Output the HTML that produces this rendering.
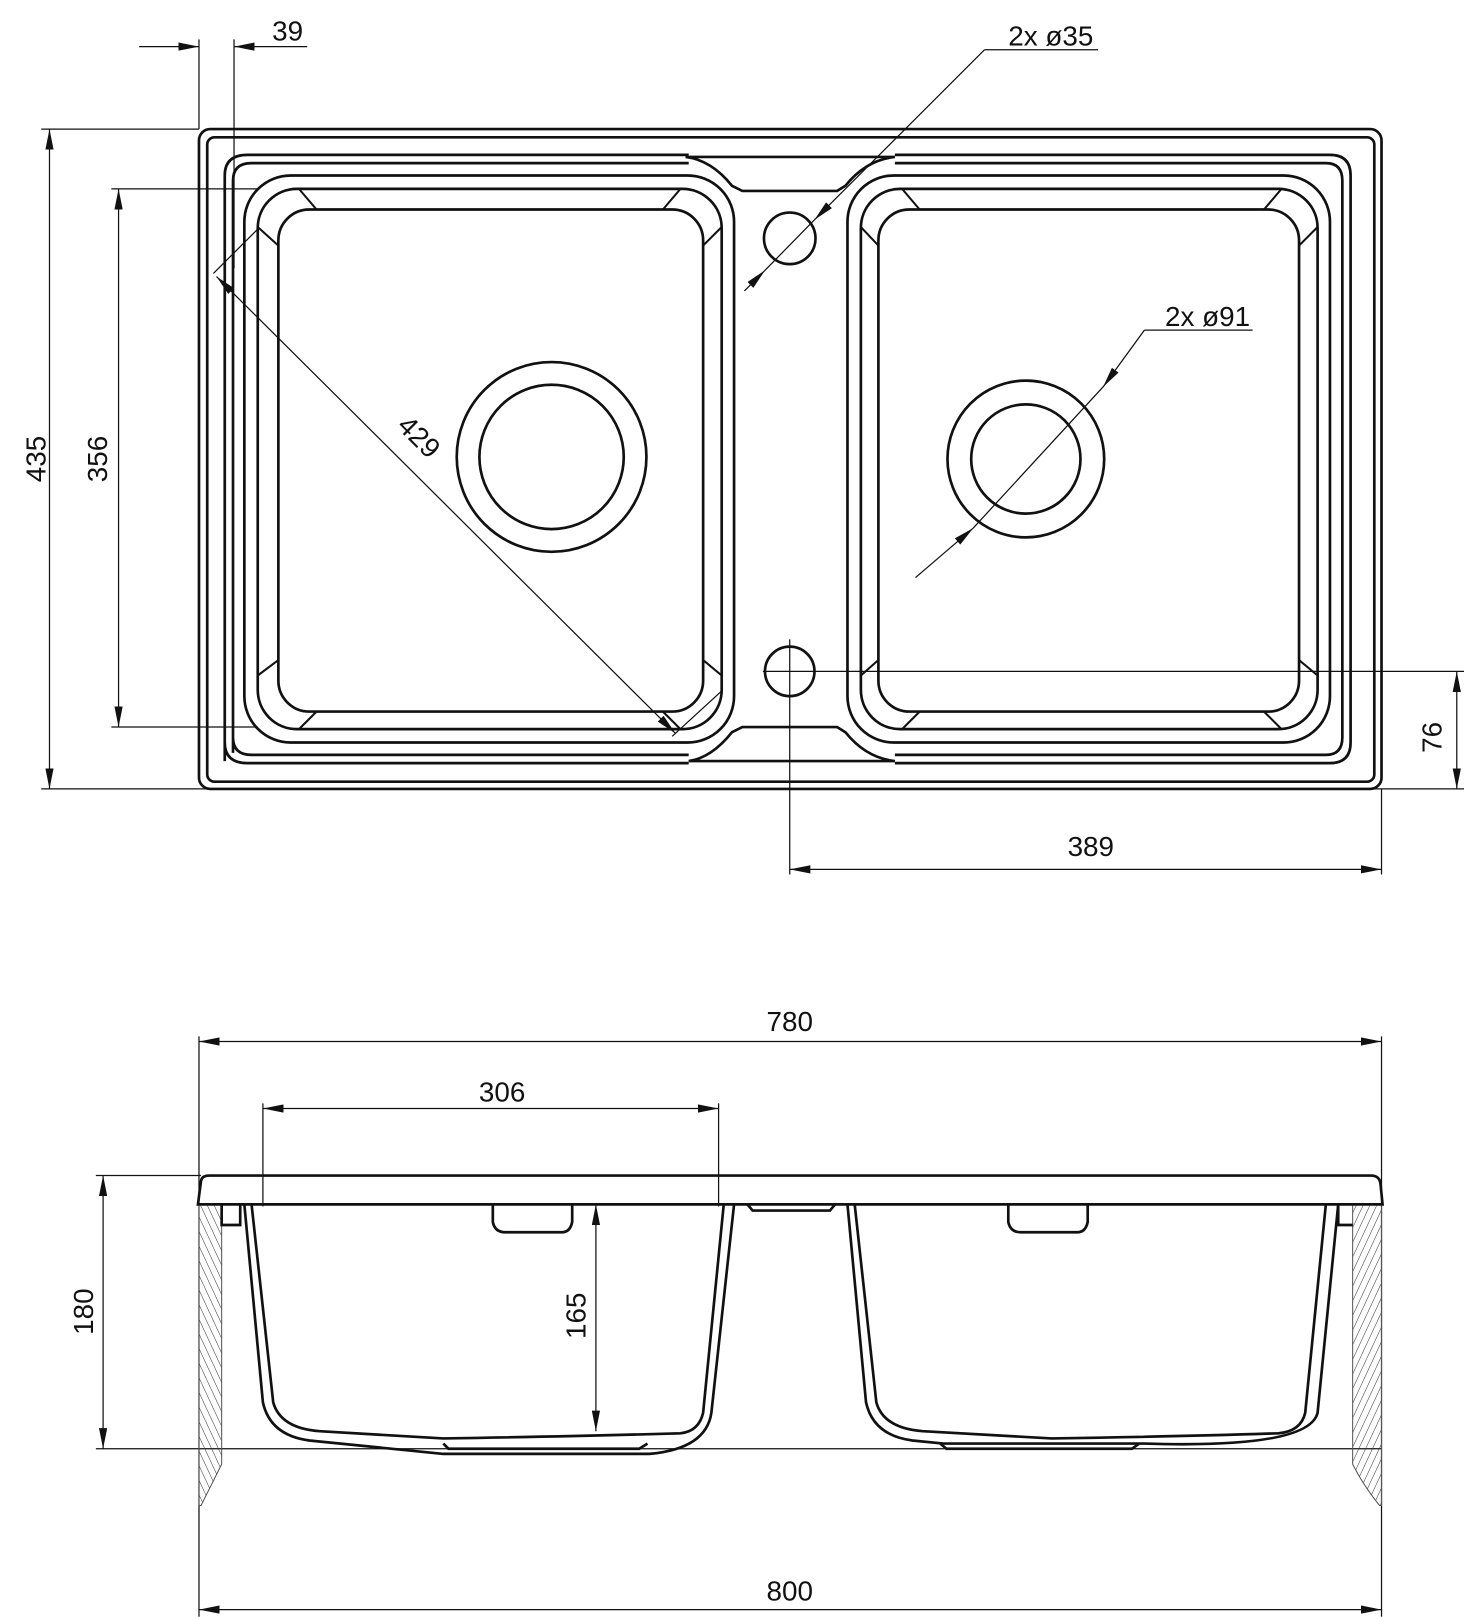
<!DOCTYPE html>
<html><head><meta charset="utf-8"><style>html,body{margin:0;padding:0;background:#fff}svg{display:block}text{font-family:"Liberation Sans",sans-serif;font-size:27px;fill:#111}</style></head><body>
<svg width="1464" height="1617" viewBox="0 0 1420 1568" xmlns="http://www.w3.org/2000/svg">
<defs>
<marker id="a" viewBox="0 0 20 8" refX="20" refY="4" markerWidth="20" markerHeight="8" markerUnits="userSpaceOnUse" orient="auto-start-reverse"><path d="M0,0L20,4L0,8z" fill="#111"/></marker>
<pattern id="h" width="6" height="6" patternUnits="userSpaceOnUse" patternTransform="rotate(-25)"><line x1="0" y1="0" x2="0" y2="6" stroke="#333" stroke-width="1"/></pattern>
<pattern id="h2" width="6" height="6" patternUnits="userSpaceOnUse" patternTransform="rotate(25)"><line x1="0" y1="0" x2="0" y2="6" stroke="#333" stroke-width="1"/></pattern>
</defs>
<g fill="none" stroke="#111" stroke-width="2.6">
<rect x="193" y="125" width="1147" height="640" rx="11"/>
<rect x="201" y="133" width="1132" height="625" rx="7"/>
<path d="M218,738 V170 Q218,150 240,150 H668 M868,150 H1290 Q1310,150 1310,170 V720 Q1310,740 1290,740 H868 M668,740 H240 Q218,740 218,720"/>
<path d="M226,730 V175 Q226,158 244,158 H668 M868,158 H1286 Q1302,158 1302,175 V715 Q1302,732 1286,732 H868 M668,732 H244 Q226,732 226,715"/>
<path d="M665,152 H868 Q840,155 820,180 L812,185 H720 L710,180 Q690,155 665,152z"/>
<path d="M668,738 H868 Q840,735 820,710 L812,705 H720 L710,710 Q690,735 668,738z"/>
<rect x="237" y="170" width="475" height="550" rx="45"/>
<rect x="250" y="183" width="450" height="524" rx="38"/>
<rect x="270" y="203" width="412" height="487" rx="30"/>
<path d="M290,183 L307,203 M660,183 L643,203 M250,220 L270,238 M700,220 L682,238 M250,655 L270,640 M700,655 L682,640 M290,707 L307,690 M660,707 L643,690" stroke-width="2"/>
<circle cx="535" cy="443" r="92"/><circle cx="535" cy="443" r="70"/>
<rect x="822" y="170" width="468" height="550" rx="45"/>
<rect x="835" y="183" width="443" height="524" rx="38"/>
<rect x="852" y="203" width="408" height="487" rx="30"/>
<path d="M875,183 L892,203 M1243,183 L1226,203 M835,220 L852,238 M1278,220 L1260,238 M835,655 L852,640 M1278,655 L1260,640 M875,707 L892,690 M1243,707 L1226,690" stroke-width="2"/>
<circle cx="995" cy="445" r="76"/><circle cx="995" cy="445" r="53"/>
<circle cx="766" cy="231" r="25"/>
<circle cx="766" cy="651" r="24"/>
</g>
<g fill="none" stroke="#111" stroke-width="1.2">
<line x1="740" y1="651" x2="1420" y2="651"/><line x1="766" y1="620" x2="766" y2="848"/>
<line x1="40" y1="125" x2="193" y2="125"/><line x1="40" y1="765" x2="1420" y2="765"/>
<line x1="48" y1="125" x2="48" y2="765" marker-start="url(#a)" marker-end="url(#a)"/>
<line x1="108" y1="183" x2="250" y2="183"/><line x1="108" y1="705" x2="250" y2="705"/>
<line x1="115" y1="183" x2="115" y2="705" marker-start="url(#a)" marker-end="url(#a)"/>
<line x1="193" y1="38" x2="193" y2="125"/><line x1="227" y1="38" x2="227" y2="260"/>
<line x1="135" y1="45" x2="193" y2="45" marker-end="url(#a)"/>
<line x1="298" y1="45" x2="227" y2="45" marker-end="url(#a)"/>
<line x1="1065" y1="48" x2="955" y2="48"/>
<line x1="955" y1="48" x2="790" y2="213" marker-end="url(#a)"/>
<line x1="722" y1="282" x2="742" y2="262" marker-end="url(#a)"/>
<line x1="742" y1="262" x2="790" y2="213"/>
<line x1="1215" y1="320" x2="1110" y2="320"/>
<line x1="1110" y1="320" x2="1070" y2="375" marker-end="url(#a)"/>
<line x1="1070" y1="375" x2="944" y2="512"/>
<line x1="888" y1="560" x2="944" y2="512" marker-end="url(#a)"/>
<line x1="207" y1="265" x2="250" y2="222"/><line x1="652" y1="714" x2="700" y2="670"/>
<line x1="210" y1="268" x2="655" y2="711" marker-start="url(#a)" marker-end="url(#a)"/>
<line x1="1413" y1="651" x2="1413" y2="765" marker-start="url(#a)" marker-end="url(#a)"/>
<line x1="1340" y1="765" x2="1340" y2="848"/>
<line x1="766" y1="843" x2="1340" y2="843" marker-start="url(#a)" marker-end="url(#a)"/>
<line x1="193" y1="1005" x2="193" y2="1568"/><line x1="1340" y1="1005" x2="1340" y2="1568"/>
<line x1="193" y1="1010" x2="1340" y2="1010" marker-start="url(#a)" marker-end="url(#a)"/>
<line x1="255" y1="1070" x2="255" y2="1170"/><line x1="697" y1="1070" x2="697" y2="1170"/>
<line x1="255" y1="1075" x2="697" y2="1075" marker-start="url(#a)" marker-end="url(#a)"/>
<line x1="93" y1="1140" x2="195" y2="1140"/><line x1="93" y1="1405" x2="1340" y2="1405"/>
<line x1="100" y1="1140" x2="100" y2="1405" marker-start="url(#a)" marker-end="url(#a)"/>
<line x1="578" y1="1168" x2="578" y2="1388" marker-start="url(#a)" marker-end="url(#a)"/>
<line x1="193" y1="1561" x2="1340" y2="1561" marker-start="url(#a)" marker-end="url(#a)"/>
</g>
<path d="M193,1168 V1460 L195,1460 Q205,1440 215,1420 V1168z" fill="url(#h)" stroke="#555" stroke-width="1"/>
<path d="M1312,1168 V1420 Q1322,1440 1338,1460 L1340,1460 V1168z" fill="url(#h2)" stroke="#555" stroke-width="1"/>
<g fill="none" stroke="#111" stroke-width="2.6">
<path d="M192,1168 L195,1145 Q196,1140 203,1140 H1330 Q1338,1140 1339,1148 L1341,1168 Z"/>
<path d="M215,1168 V1188 H233 L233,1168"/>
<path d="M1298,1168 V1188 H1312"/>
<path d="M237,1168 L255,1360 Q262,1392 300,1397 L430,1410 H630 Q685,1405 690,1370 L712,1168"/>
<path d="M244,1168 L265,1360 Q272,1385 310,1388 L430,1395 Q560,1393 660,1390 Q678,1388 682,1370 L702,1168"/>
<path d="M430,1400 L435,1405 H620 L628,1400"/>
<path d="M478,1168 V1185 Q480,1195 490,1195 H545 Q553,1195 555,1185 V1168"/>
<path d="M822,1168 L840,1360 Q847,1392 885,1397 L915,1400 H1110 Q1270,1405 1278,1370 L1298,1168"/>
<path d="M829,1168 L850,1360 Q857,1385 895,1388 L1020,1395 Q1150,1393 1240,1390 Q1262,1388 1266,1370 L1286,1168"/>
<path d="M912,1400 L918,1405 H1098 L1105,1400"/>
<path d="M978,1168 V1185 Q980,1195 990,1195 H1045 Q1053,1195 1055,1185 V1168"/>
<path d="M725,1168 L730,1174 H805 L810,1168"/>
</g>
<text x="264" y="39">39</text>
<text x="978" y="44">2x ø35</text>
<text x="1130" y="316">2x ø91</text>
<text transform="translate(44,445) rotate(-90)" text-anchor="middle">435</text>
<text transform="translate(104,445) rotate(-90)" text-anchor="middle">356</text>
<text transform="translate(400,430) rotate(45)" text-anchor="middle">429</text>
<text transform="translate(1398,715) rotate(-90)" text-anchor="middle">76</text>
<text x="1058" y="830" text-anchor="middle">389</text>
<text x="766" y="1000" text-anchor="middle">780</text>
<text x="487" y="1068" text-anchor="middle">306</text>
<text transform="translate(90,1272) rotate(-90)" text-anchor="middle">180</text>
<text transform="translate(568,1276) rotate(-90)" text-anchor="middle">165</text>
<text x="766" y="1552" text-anchor="middle">800</text>
</svg>
</body></html>
